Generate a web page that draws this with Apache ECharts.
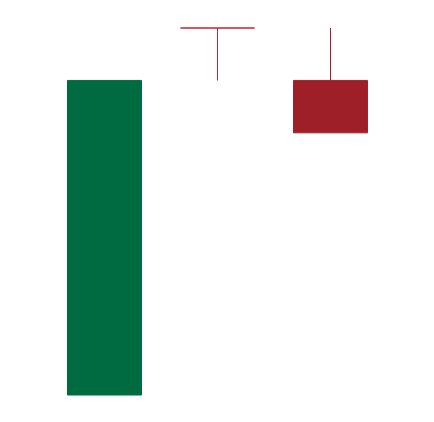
<!DOCTYPE html>
<html><head><meta charset="utf-8">
<script src="https://cdn.jsdelivr.net/npm/echarts@6/dist/echarts.min.js"></script>
<style>html,body{margin:0;padding:0;background:#fff}#c{width:434px;height:422px}</style>
</head><body><div id="c"></div>
<script>
const categories = ['A', 'B', 'C'];
// [open, close, low, high]
const candles = [
  [1, 7, 1, 7],
  [8, 8, 7, 8],
  [7, 6, 6, 8]
];
const chart = echarts.init(document.getElementById('c'), null, {renderer: 'canvas'});
chart.setOption({
  animation: false,
  backgroundColor: '#ffffff',
  grid: {left: 48, right: 47, top: 28, bottom: 27},
  xAxis: {type: 'category', data: categories, show: false, boundaryGap: true},
  yAxis: {type: 'value', min: 1, max: 8, show: false, splitLine: {show: false}},
  series: [{
    type: 'candlestick',
    data: candles,
    barWidth: '66.7%',
    itemStyle: {
      color: '#006a40', color0: '#9e1f27',
      borderColor: '#006a40', borderColor0: '#a81f2c',
      borderColorDoji: '#b8273a',
      borderWidth: 1
    }
  }]
});
</script></body></html>
